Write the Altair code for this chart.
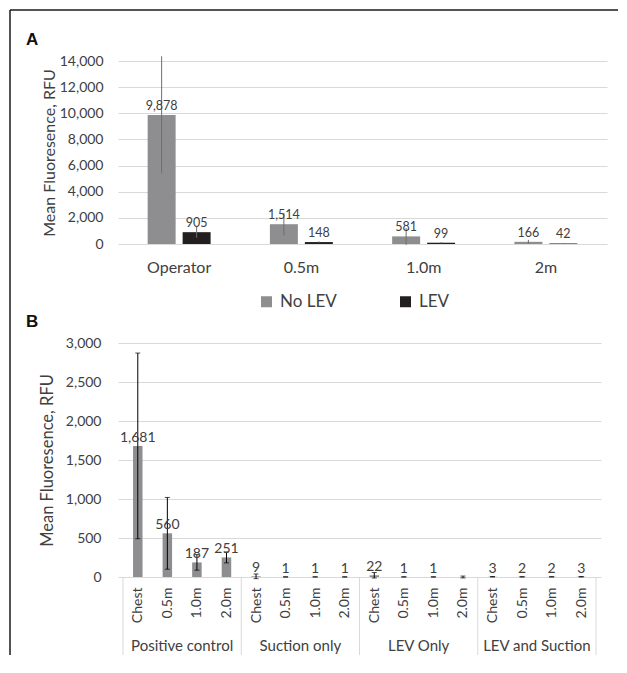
import json
import altair as alt
import pandas as pd

FONT = "Lato"
TXT = "#404040"
GRID = "#d9d9d9"
GRAY = "#8e8e90"
BLACK = "#231f20"
FRAME = "#1a1a1a"

# ---------------- Panel A data ----------------
a_locations = ["Operator", "0.5m", "1.0m", "2m"]
a_series = ["No LEV", "LEV"]
a_no_lev = [9878, 1514, 581, 166]
a_no_lev_err = [4480, 870, 650, 150]
a_lev = [905, 148, 99, 42]
a_lev_err = [430, 60, 50, 30]
a_ticks = [0, 2000, 4000, 6000, 8000, 10000, 12000, 14000]

# ---------------- Panel B data ----------------
b_groups = ["Positive control", "Suction only", "LEV Only", "LEV and Suction"]
b_positions = ["Chest", "0.5m", "1.0m", "2.0m"]
b_values = [1681, 560, 187, 251, 9, 1, 1, 1, 22, 1, 1, 0, 3, 2, 2, 3]
b_errors = [1190, 460, 100, 70, 30, 2, 2, 2, 35, 2, 2, 12, 3, 2, 2, 3]
b_ticks = [0, 500, 1000, 1500, 2000, 2500, 3000]

# ---------------- frames ----------------
rows = []
for s, vals, errs in [(a_series[0], a_no_lev, a_no_lev_err), (a_series[1], a_lev, a_lev_err)]:
    for loc, v, e in zip(a_locations, vals, errs):
        rows.append({"location": loc, "series": s, "value": v, "lo": v - e, "hi": v + e})
df_a = pd.DataFrame(rows)

n_sub = len(b_positions)
rows = []
for i, (v, e) in enumerate(zip(b_values, b_errors)):
    rows.append({"idx": i, "group": b_groups[i // n_sub], "position": b_positions[i % n_sub],
                 "value": v, "lo": v - e, "hi": v + e})
df_b = pd.DataFrame(rows)
sub_labels = [p for g in b_groups for p in b_positions]
df_centers = pd.DataFrame({"center": [g * n_sub + (n_sub - 1) / 2 for g in range(len(b_groups))],
                           "name": b_groups})
df_bounds = pd.DataFrame({"b": [g * n_sub - 0.5 for g in range(len(b_groups) + 1)]})
one = pd.DataFrame({"k": [0]})

# ---------------- Panel A chart ----------------
WA, HA = 489, 183
GAP = 99  # vertical distance between the two plot areas
xa = alt.X("location:N", sort=a_locations,
           scale=alt.Scale(paddingInner=0.485, paddingOuter=0.2425),
           axis=alt.Axis(title=None, labelFontSize=16, labelAngle=0, labelPadding=28,
                         labelBaseline="alphabetic", ticks=False, domain=False, grid=False))
xoa = alt.XOffset("series:N", sort=a_series, scale=alt.Scale(paddingInner=0.2, paddingOuter=0))
ya_scale = alt.Scale(domain=[0, 14000], nice=False)
ya_axis = alt.Axis(values=a_ticks, format=",.0f", title="Mean Fluoresence, RFU", titleFontSize=16,
                   titlePadding=2, labelFontSize=14, labelPadding=15, domain=False, ticks=False,
                   grid=True, gridColor=GRID)

base_a = alt.Chart(df_a)
bars_a = base_a.mark_bar().encode(
    x=xa, xOffset=xoa,
    y=alt.Y("value:Q", scale=ya_scale, axis=ya_axis),
    color=alt.Color("series:N", sort=a_series,
                    scale=alt.Scale(domain=a_series, range=[GRAY, BLACK]),
                    legend=alt.Legend(title=None, orient="none", legendX=140, legendY=232,
                                      direction="horizontal", symbolType="square", symbolSize=121,
                                      symbolStrokeWidth=0, labelFontSize=17, labelColor=TXT,
                                      labelOffset=5, columnPadding=60, padding=0)),
)
err_a = base_a.mark_rule(color="#6e6e6e", strokeWidth=1).encode(
    x=xa, xOffset=xoa,
    y=alt.Y("lo:Q", scale=ya_scale, axis=ya_axis), y2="hi:Q",
)
lab_a = base_a.mark_text(baseline="alphabetic", dy=-5, fontSize=12.5, color=TXT).encode(
    x=xa, xOffset=xoa,
    y=alt.Y("value:Q", scale=ya_scale, axis=ya_axis),
    text=alt.Text("value:Q", format=",.0f"),
)
letter_a = alt.Chart(pd.DataFrame({"t": ["A"]})).mark_text(
    align="left", baseline="alphabetic", font="Liberation Sans", fontWeight="bold",
    fontSize=17, color="#111111").encode(x=alt.value(-92), y=alt.value(-16), text="t:N")

panel_a = alt.layer(bars_a, err_a, lab_a, letter_a).properties(width=WA, height=HA)

# ---------------- Panel B chart ----------------
WB, HB = 483, 234
xb_scale = alt.Scale(domain=[-0.5, len(b_values) - 0.5], nice=False, zero=False)
yb_scale = alt.Scale(domain=[0, 3000], nice=False)
yb_axis = alt.Axis(values=b_ticks, format=",.0f", title="Mean Fluoresence, RFU",
                   titleFontSize=16.5, titlePadding=10, labelFontSize=14, labelPadding=17,
                   domain=False, ticks=False, grid=True, gridColor=GRID)
sub_axis = alt.Axis(values=list(range(len(b_values))),
                    labelExpr=json.dumps(sub_labels) + "[datum.value]",
                    labelAngle=-90, labelAlign="right", labelBaseline="middle", labelPadding=10,
                    labelFontSize=14, labelFlush=False, labelOverlap=False, ticks=False,
                    grid=False, domain=False, title=None)
xb = alt.X("idx:Q", scale=xb_scale, axis=sub_axis)

base_b = alt.Chart(df_b)
bars_b = base_b.mark_bar(size=9.5, color=GRAY).encode(
    x=xb, y=alt.Y("value:Q", scale=yb_scale, axis=yb_axis))
err_b = base_b.mark_rule(color="#000000", strokeWidth=1).encode(
    x=xb, y=alt.Y("lo:Q", scale=yb_scale, axis=yb_axis), y2="hi:Q")
cap_lo = base_b.mark_tick(orient="horizontal", size=5, thickness=1, color="#000000").encode(
    x=xb, y=alt.Y("lo:Q", scale=yb_scale, axis=yb_axis))
cap_hi = base_b.mark_tick(orient="horizontal", size=5, thickness=1, color="#000000").encode(
    x=xb, y=alt.Y("hi:Q", scale=yb_scale, axis=yb_axis))
lab_b = base_b.mark_text(baseline="alphabetic", dy=-4, fontSize=14, color=TXT).transform_filter(
    "datum.value > 0").encode(
    x=xb, y=alt.Y("value:Q", scale=yb_scale, axis=yb_axis),
    text=alt.Text("value:Q", format=",.0f"))
# multi-level category axis: group separators and group names below the position labels
sep_b = alt.Chart(df_bounds).mark_rule(color=GRID, strokeWidth=1).encode(
    x=alt.X("b:Q", scale=xb_scale, axis=sub_axis), y=alt.value(HB), y2=alt.value(HB + 78))
grp_b = alt.Chart(df_centers).mark_text(baseline="alphabetic", fontSize=15, color=TXT).encode(
    x=alt.X("center:Q", scale=xb_scale, axis=sub_axis), y=alt.value(HB + 74), text="name:N")
# outer figure frame (top and left edges)
FRAME_TOP = -(GAP + HA + 51)
frame_top = alt.Chart(one).mark_rule(color=FRAME, strokeWidth=1.5).encode(
    x=alt.value(-108), x2=alt.value(500), y=alt.value(FRAME_TOP))
frame_left = alt.Chart(one).mark_rule(color=FRAME, strokeWidth=1.5).encode(
    x=alt.value(-108), y=alt.value(FRAME_TOP), y2=alt.value(312))
letter_b = alt.Chart(pd.DataFrame({"t": ["B"]})).mark_text(
    align="left", baseline="alphabetic", font="Liberation Sans", fontWeight="bold",
    fontSize=17, color="#111111").encode(x=alt.value(-92), y=alt.value(-16), text="t:N")

panel_b = alt.layer(bars_b, err_b, cap_lo, cap_hi, lab_b, sep_b, grp_b, frame_top, frame_left,
                    letter_b).properties(width=WB, height=HB)

chart = alt.vconcat(panel_a, panel_b, spacing=GAP, bounds="flush").resolve_legend(
    color="independent").properties(
    padding={"left": 1, "top": 1, "right": 0, "bottom": 0}
).configure(font=FONT).configure_view(stroke=None, strokeWidth=0).configure_axis(
    labelFont=FONT, titleFont=FONT, labelColor=TXT, titleColor=TXT, titleFontWeight="normal",
    domain=False
).configure_legend(labelFont=FONT)

chart.save("out.html", embed_options={"renderer": "svg", "actions": False})
